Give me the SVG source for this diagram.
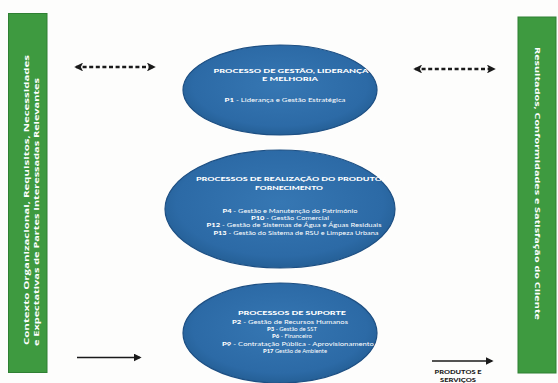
<svg xmlns="http://www.w3.org/2000/svg" width="558" height="383" viewBox="0 0 558 383">
<defs>
<style>
.bar{fill:#3e9a40;stroke:#2f8033;stroke-width:1}
.ell{fill:url(#eg);stroke:#1d4f83;stroke-width:1.2}
.t{font-family:Lato,"Open Sans","DejaVu Sans",sans-serif;fill:#ffffff;text-anchor:middle}
.h{font-weight:900;font-size:6.4px}
.p{font-weight:400;font-size:5.6px}
.p tspan{font-weight:900}
.side{font-family:"Open Sans","Liberation Sans",sans-serif;font-weight:700;font-size:7.8px;fill:#ffffff}
.dash{stroke:#1a1a1a;stroke-width:2.6;stroke-dasharray:4 2.6;fill:none}
.solid{stroke:#1a1a1a;stroke-width:1.6;fill:none}
.lbl{font-family:Lato,"Liberation Sans",sans-serif;font-weight:900;font-size:5px;fill:#1a1a1a;text-anchor:middle}
</style>
<radialGradient id="eg" cx="50%" cy="45%" r="60%">
<stop offset="0" stop-color="#3677b3"/>
<stop offset="0.75" stop-color="#2c6aa6"/>
<stop offset="1" stop-color="#215a8e"/>
</radialGradient>
<marker id="ah" viewBox="0 0 10 10" refX="8" refY="5" markerWidth="3.4" markerHeight="3.4" orient="auto-start-reverse" markerUnits="strokeWidth">
<path d="M0,0 L10,5 L0,10 L2.5,5 Z" fill="#1a1a1a"/>
</marker>
<marker id="as" viewBox="0 0 10 10" refX="8" refY="5" markerWidth="5" markerHeight="5" orient="auto" markerUnits="strokeWidth">
<path d="M0,0 L10,5 L0,10 Z" fill="#1a1a1a"/>
</marker>
</defs>
<rect width="558" height="383" fill="#fdfdfc"/>

<g id="context-bar">
<rect class="bar" x="8.5" y="13.5" width="38.5" height="359"/>
<text class="side" transform="translate(29,345) rotate(-90)" textLength="290" lengthAdjust="spacingAndGlyphs">Contexto Organizacional, Requisitos, Necessidades</text>
<text class="side" transform="translate(39,346) rotate(-90)" textLength="268" lengthAdjust="spacingAndGlyphs">e Expectativas de Partes Interessadas Relevantes</text>
</g>

<g id="results-bar">
<rect class="bar" x="518" y="17" width="38" height="356"/>
<text class="side" transform="translate(535,47) rotate(90)" textLength="273" lengthAdjust="spacingAndGlyphs">Resultados, Conformidades e Satisfação do Cliente</text>
</g>

<g id="gestao">
<ellipse class="ell" cx="280" cy="90" rx="97" ry="45"/>
<text class="t h" x="291" y="72.5" textLength="155" lengthAdjust="spacingAndGlyphs">PROCESSO DE GESTÃO, LIDERANÇA</text>
<text class="t h" x="290" y="81" textLength="56" lengthAdjust="spacingAndGlyphs">E MELHORIA</text>
<text class="t p" x="285" y="102" textLength="121" lengthAdjust="spacingAndGlyphs"><tspan>P1</tspan> - Liderança e Gestão Estratégica</text>
</g>

<g id="realizacao">
<ellipse class="ell" cx="280" cy="209" rx="115" ry="59"/>
<text class="t h" x="291" y="180.5" textLength="190" lengthAdjust="spacingAndGlyphs">PROCESSOS DE REALIZAÇÃO DO PRODUTO/</text>
<text class="t h" x="289" y="189.5" textLength="68" lengthAdjust="spacingAndGlyphs">FORNECIMENTO</text>
<text class="t p" x="290" y="212.5" textLength="135" lengthAdjust="spacingAndGlyphs"><tspan>P4</tspan> - Gestão e Manutenção do Património</text>
<text class="t p" x="290" y="219.5" textLength="78" lengthAdjust="spacingAndGlyphs"><tspan>P10</tspan> - Gestão Comercial</text>
<text class="t p" x="294" y="227" textLength="175" lengthAdjust="spacingAndGlyphs"><tspan>P12</tspan> - Gestão de Sistemas de Água e Águas Residuais</text>
<text class="t p" x="296" y="234.5" textLength="165" lengthAdjust="spacingAndGlyphs"><tspan>P13</tspan> - Gestão do Sistema de RSU e Limpeza Urbana</text>
</g>

<g id="suporte">
<ellipse class="ell" cx="280" cy="333" rx="97" ry="50"/>
<text class="t h" x="292" y="314.5" textLength="108" lengthAdjust="spacingAndGlyphs">PROCESSOS DE SUPORTE</text>
<text class="t p" x="290" y="324" textLength="116" lengthAdjust="spacingAndGlyphs"><tspan>P2</tspan> - Gestão de Recursos Humanos</text>
<text class="t p" x="292" y="331" textLength="50" lengthAdjust="spacingAndGlyphs"><tspan>P3</tspan> - Gestão de SST</text>
<text class="t p" x="292" y="338" textLength="40" lengthAdjust="spacingAndGlyphs"><tspan>P6</tspan> - Financeiro</text>
<text class="t p" x="298" y="345.5" textLength="152" lengthAdjust="spacingAndGlyphs"><tspan>P9</tspan> - Contratação Pública - Aprovisionamento</text>
<text class="t p" x="295" y="352.5" textLength="64" lengthAdjust="spacingAndGlyphs"><tspan>P17</tspan> Gestão de Ambiente</text>
</g>

<g id="connectors">
<line class="dash" x1="76" y1="67" x2="154" y2="67" marker-start="url(#ah)" marker-end="url(#ah)"/>
<line class="dash" x1="415" y1="69" x2="494" y2="69" marker-start="url(#ah)" marker-end="url(#ah)"/>
<line class="solid" x1="77" y1="357.5" x2="140" y2="357.5" marker-end="url(#as)"/>
<line class="solid" x1="432" y1="361" x2="492" y2="361" marker-end="url(#as)"/>
<text class="lbl" x="458" y="374" textLength="47" lengthAdjust="spacingAndGlyphs">PRODUTOS E</text>
<text class="lbl" x="458" y="381.5" textLength="36" lengthAdjust="spacingAndGlyphs">SERVIÇOS</text>
</g>
</svg>
